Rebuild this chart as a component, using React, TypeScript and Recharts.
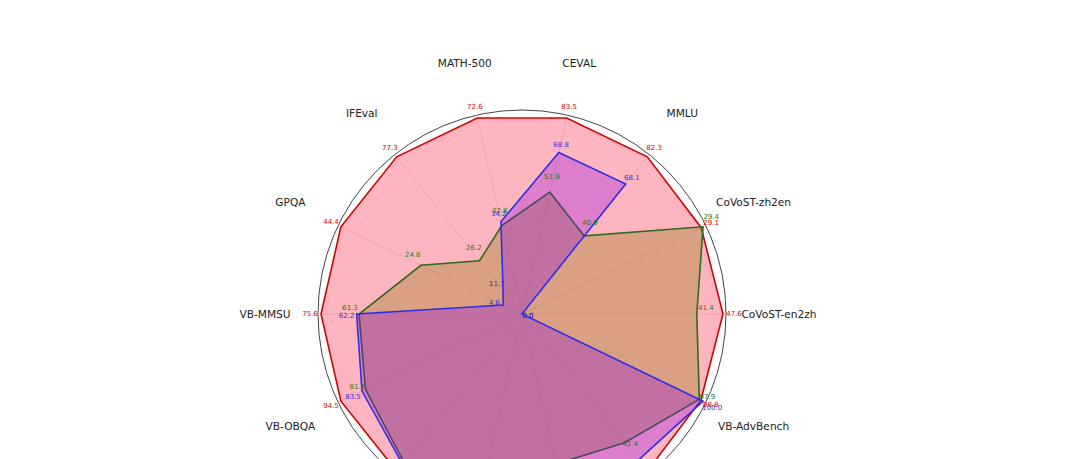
import React from 'react';
import { RadarChart, Radar, PolarGrid, PolarAngleAxis, PolarRadiusAxis } from 'recharts';

const categories = [
  'CoVoST-en2zh', 'CoVoST-zh2en', 'MMLU', 'CEVAL', 'MATH-500', 'IFEval', 'GPQA',
  'VB-MMSU', 'VB-OBQA', 'VB-SD-QA', 'VB-IFEval', 'VB-CommonEval', 'VB-AlpacaEval', 'VB-AdvBench',
];
const redValues = [47.6, 29.1, 82.3, 83.5, 72.6, 77.3, 44.4, 75.6, 94.5, 59.0, 60.0, 80.0, 75.0, 98.8];
const greenValues = [41.4, 29.4, 40.9, 51.9, 32.8, 26.2, 24.8, 61.3, 81.7, 55.6, 49.0, 61.2, 61.4, 97.9];
const blueValues = [0.0, 0.0, 68.1, 68.8, 34.2, 11.7, 4.6, 62.2, 83.5, 56.3, 54.0, 72.0, 69.7, 100.0];

const CX = 522;
const CY = 314;
const OUTER = 204;
const LABEL_R = 257;
const STEP = 360 / categories.length;
const FONT = '"DejaVu Sans", Verdana, sans-serif';

const maxes = categories.map((_, i) => Math.max(redValues[i], greenValues[i], blueValues[i]));
const data = categories.map((name, i) => ({
  name,
  red: redValues[i] / maxes[i],
  green: greenValues[i] / maxes[i],
  blue: blueValues[i] / maxes[i],
}));

const makeDot = (raw: number[], color: string, radial: number, shiftY: number) => (p: any) => {
  const x = p.cx;
  const y = p.cy;
  const dx = x - CX;
  const dy = y - CY;
  const len = Math.sqrt(dx * dx + dy * dy);
  let ox = 0;
  let oy = 0;
  if (len > 0.5) {
    ox = (dx / len) * radial;
    oy = (dy / len) * radial;
  } else {
    ox = 6;
    oy = 0;
  }
  return (
    <text
      key={`lbl-${color}-${p.index}`}
      x={x + ox}
      y={y + oy + shiftY}
      textAnchor="middle"
      dominantBaseline="central"
      fontSize={7}
      fontFamily={FONT}
      fill={color}
    >
      {raw[p.index].toFixed(1)}
    </text>
  );
};

const AngleTick = (props: any) => {
  const { payload } = props;
  const idx = categories.indexOf(payload.value);
  const a = (idx * STEP * Math.PI) / 180;
  const lx = CX + LABEL_R * Math.cos(a);
  const ly = CY - LABEL_R * Math.sin(a);
  return (
    <text
      x={lx}
      y={ly}
      textAnchor="middle"
      dominantBaseline="central"
      fontSize={10.6}
      fontFamily={FONT}
      fill="#222"
    >
      {payload.value}
    </text>
  );
};

export default function App() {
  return (
    <div style={{ position: 'absolute', left: 0, top: 0, width: 1080, height: 459, overflow: 'hidden', background: '#fff' }}>
      <RadarChart
        width={1080}
        height={720}
        data={data}
        cx={CX}
        cy={CY}
        outerRadius={OUTER}
        startAngle={-STEP}
        endAngle={360 - STEP}
        margin={{ top: 0, right: 0, bottom: 0, left: 0 }}
      >
        <PolarGrid gridType="circle" radialLines={false} polarRadius={[OUTER]} stroke="#444" strokeWidth={1} />
        <PolarAngleAxis dataKey="name" tick={AngleTick} axisLine={false} tickLine={false} />
        <PolarRadiusAxis domain={[0, 1.015]} tick={false} axisLine={false} />
        <Radar
          dataKey="red"
          stroke="#d40000"
          strokeWidth={1.6}
          fill="#ff0022"
          fillOpacity={0.29}
          dot={makeDot(redValues, '#e00000', 11, 0)}
          isAnimationActive={false}
        />
        <Radar
          dataKey="green"
          stroke="#2d6a1f"
          strokeWidth={1.6}
          fill="#967814"
          fillOpacity={0.35}
          dot={makeDot(greenValues, '#1a7a1a', 9, -6)}
          isAnimationActive={false}
        />
        <Radar
          dataKey="blue"
          stroke="#2f2fe8"
          strokeWidth={1.6}
          fill="#8c00eb"
          fillOpacity={0.3}
          dot={makeDot(blueValues, '#2f2fe8', 10, 2)}
          isAnimationActive={false}
        />
        <PolarGrid gridType="circle" radialLines polarRadius={[]} stroke="#d8d8d8" strokeOpacity={0.7} strokeWidth={0.8} />
      </RadarChart>
    </div>
  );
}
